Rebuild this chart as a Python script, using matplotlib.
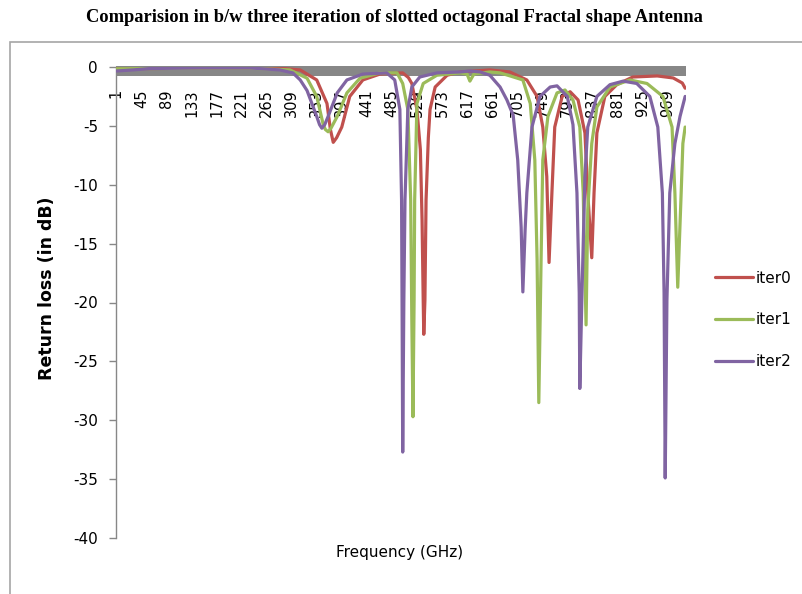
import numpy as np
import matplotlib
matplotlib.use('Agg')
import matplotlib.pyplot as plt
from matplotlib.patches import Rectangle

plt.rcParams['axes.unicode_minus'] = False

# sample index (category position) and return loss (dB)
iter0_x = [1, 148, 236, 288, 324, 353, 371, 377, 382, 388, 397, 411, 434, 464, 504, 514, 520, 529, 535, 538,
           540, 541, 543, 545, 549, 552, 561, 582, 605, 657, 692, 722, 740, 750, 757, 761, 766,
           771, 784, 798, 812, 824, 829, 836, 840, 845, 859, 880, 908, 951, 979, 995, 1000]
iter0_y = [-0.15, -0.1, -0.1, -0.1, -0.25, -1.1, -3.1, -5.3, -6.4, -6.0, -5.1, -2.5, -1.1, -0.6, -0.5, -0.9, -1.4, -3.6, -7.0, -13.0,
           -19.8, -22.7, -19.8, -11.3, -6.0, -3.6, -1.7, -0.7, -0.42, -0.25, -0.42, -1.1, -2.5, -5.1, -9.3, -16.6, -10.7,
           -5.1, -2.5, -2.1, -2.8, -5.6, -10.7, -16.2, -10.7, -5.6, -2.5, -1.5, -0.85, -0.76, -0.93, -1.36, -1.8]

iter1_x = [1, 148, 236, 306, 336, 353, 364, 368, 373, 378, 389, 406, 429, 464, 494, 504, 513, 518,
           520, 522, 524, 525, 529, 540, 564, 605, 617, 622, 629, 657, 675, 692, 715, 728,
           736, 740, 743, 747, 750, 759, 775, 789, 803, 815, 821, 826, 829, 836, 845, 868,
           903, 933, 961, 977, 982, 987, 993, 996, 1000]
iter1_y = [-0.15, -0.1, -0.1, -0.25, -0.95, -2.5, -4.8, -5.3, -5.5, -5.2, -4.2, -2.2, -0.95, -0.5, -0.5, -1.4, -3.6, -11.3,
           -21.5, -29.7, -19.8, -11.3, -3.1, -1.4, -0.7, -0.5, -0.6, -1.2, -0.6, -0.42, -0.5, -0.75, -1.1, -3.1,
           -7.9, -16.4, -28.5, -16.4, -7.9, -4.2, -2.2, -1.95, -2.8, -5.1, -10.7, -21.9, -12.1, -6.5, -3.4, -1.7,
           -1.1, -1.4, -2.5, -5.1, -10.7, -18.7, -10.7, -6.5, -5.1]

iter2_x = [1, 30, 60, 148, 236, 288, 311, 324, 336, 353, 358, 362, 367, 373, 389, 406, 434, 476,
           490, 499, 502, 503, 504, 506, 508, 513, 520, 534, 564, 605, 622, 640, 657, 675,
           687, 698, 706, 712, 715, 719, 722, 731, 745, 763, 775, 793, 803, 810, 814, 815,
           819, 824, 829, 845, 868, 891, 915, 938, 952, 960, 963, 965, 968, 973, 982, 991, 1000]
iter2_y = [-0.34, -0.25, -0.13, -0.08, -0.08, -0.25, -0.5, -1.1, -2.0, -4.2, -4.9, -5.2, -4.9, -4.2, -2.2, -1.1, -0.6, -0.5,
           -1.1, -3.6, -11.3, -21.5, -32.7, -19.8, -11.3, -3.6, -1.7, -0.85, -0.5, -0.42, -0.34, -0.42, -0.7, -1.7,
           -2.8, -4.1, -7.9, -13.6, -19.1, -13.8, -10.7, -5.1, -2.5, -1.7, -1.6, -2.5, -4.9, -10.7, -19.2, -27.3,
           -18.9, -9.3, -5.1, -2.5, -1.5, -1.2, -1.4, -2.5, -5.1, -10.7, -19.2, -34.9, -19.8, -10.7, -6.5, -4.2, -2.5]

series = [('iter0', iter0_x, iter0_y, '#C0504D'),
          ('iter1', iter1_x, iter1_y, '#9BBB59'),
          ('iter2', iter2_x, iter2_y, '#8064A2')]

x_ticks = list(range(1, 1002, 44))
y_ticks = list(range(-40, 1, 5))

fig = plt.figure(figsize=(8.02, 5.94), dpi=100)
ax = fig.add_axes([116/802, 1-538/594, 570/802, 471/594])

for name, xs, ys, col in series:
    ax.plot(xs, ys, color=col, lw=2.3, label=name, zorder=3,
            solid_joinstyle='round', solid_capstyle='round')

ax.set_xlim(0.5, 1001.5)
ax.set_ylim(-40, 0)

# thick grey category axis sitting just under 0 dB
ax.spines['top'].set_visible(False)
ax.spines['right'].set_visible(False)
ax.spines['bottom'].set_position(('data', -0.34))
ax.spines['bottom'].set_linewidth(7.2)
ax.spines['bottom'].set_capstyle('butt')
ax.spines['bottom'].set_color('#878787')
ax.spines['left'].set_color('#878787')
ax.spines['left'].set_linewidth(1)

ax.set_xticks(x_ticks)
ax.set_xticklabels([str(t) for t in x_ticks], rotation=90, va='top', fontsize=10.5)
ax.tick_params(axis='x', length=0, pad=13)
ax.set_yticks(y_ticks)
ax.tick_params(axis='y', length=5, width=1, color='#878787', pad=8, labelsize=11)

ax.legend(loc='center left', bbox_to_anchor=(1.05, 0.463), frameon=False, fontsize=11,
          handlelength=2.5, handletextpad=0.2, labelspacing=1.75, borderpad=0, borderaxespad=0)

fig.text(47/802, 1-288/594, 'Return loss (in dB)', rotation=90, ha='center', va='center',
         fontsize=12.5, fontweight='bold')
fig.text(400/802, 1-553/594, 'Frequency (GHz)', ha='center', va='center', fontsize=11)
fig.text(394/802, 1-17/594, 'Comparision in b/w three iteration of slotted octagonal Fractal shape Antenna',
         ha='center', va='center', fontsize=13.3, fontweight='bold', family='Liberation Serif')

fig.add_artist(Rectangle((10/802, -0.1), 1.2, 0.1 + (1-42/594), transform=fig.transFigure,
                         fill=False, ec='#a6a6a6', lw=1.2))

fig.savefig('out.png', dpi=100)
